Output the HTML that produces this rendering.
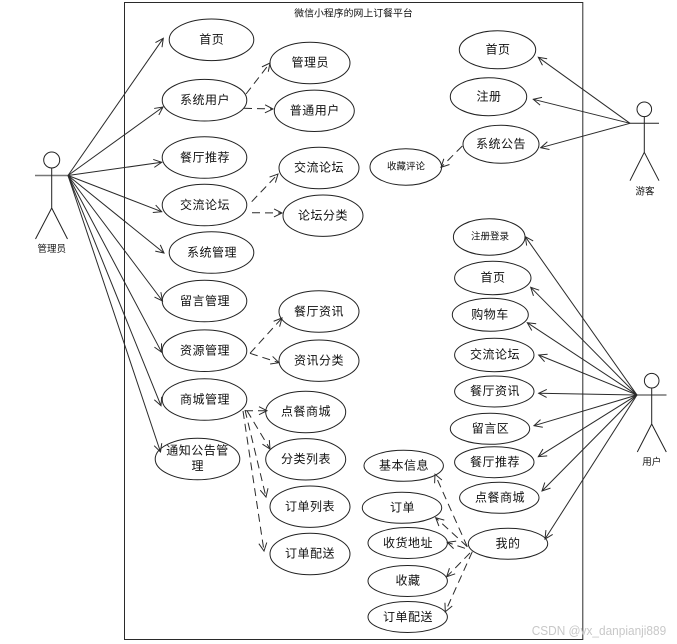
<!DOCTYPE html>
<html lang="zh">
<head>
<meta charset="utf-8">
<title>微信小程序的网上订餐平台</title>
<style>
html,body{margin:0;padding:0;background:#fff;width:677px;height:644px;overflow:hidden}
svg{display:block}
.n line{stroke:#2a2a2a;stroke-width:1;fill:none;marker-end:url(#a)}
.d line{stroke:#2a2a2a;stroke-width:1;fill:none;stroke-dasharray:8 5;marker-end:url(#a)}
.e ellipse{fill:none;stroke:#222;stroke-width:1}
.t text{font-family:"Liberation Sans","WenQuanYi Zen Hei","Noto Sans CJK SC",sans-serif;font-size:12px;letter-spacing:.5px;text-anchor:middle;dominant-baseline:central;fill:#111}
.t text.m{font-size:9.5px;letter-spacing:0}
.act{stroke:#222;stroke-width:1;fill:none}
</style>
</head>
<body>
<svg class="s" width="677" height="644" viewBox="0 0 677 644" xmlns="http://www.w3.org/2000/svg">
<defs>
<marker id="a" markerUnits="userSpaceOnUse" markerWidth="12" markerHeight="12" refX="10" refY="6" orient="auto" overflow="visible">
<path d="M2,2 L10,6 L2,10" fill="none" stroke="#2a2a2a" stroke-width="1"/>
</marker>
</defs>
<rect width="677" height="644" fill="#fff"/>
<rect x="124.5" y="2.5" width="458.3" height="637" fill="none" stroke="#2a2a2a" stroke-width="1"/>

<g class="act">
<circle cx="51.7" cy="160" r="8"/>
<line x1="35" y1="175.5" x2="68" y2="175.5" stroke="#777" stroke-width="1.6"/>
<path d="M51.7,168 V208 M35.5,239 L51.7,208 L67.5,239"/>
<circle cx="644.3" cy="109.3" r="7.3"/>
<path d="M630,123.3 H659 M644.3,116.6 V152.3 M630,180.7 L644.3,152.3 L659,180.7"/>
<circle cx="651.7" cy="380.7" r="7.3"/>
<line x1="637" y1="395" x2="666.5" y2="395" stroke="#777" stroke-width="1.6"/>
<path d="M651.7,388 V424 M637.3,452 L651.7,424 L666.3,452"/>
</g>

<g class="e">
<ellipse cx="211.5" cy="39.8" rx="42.3" ry="20.8"/>
<ellipse cx="204.5" cy="100.2" rx="42.3" ry="20.8"/>
<ellipse cx="204.5" cy="157.5" rx="42.3" ry="20.8"/>
<ellipse cx="204.5" cy="205" rx="42.3" ry="20.8"/>
<ellipse cx="211.5" cy="252.5" rx="42.3" ry="20.8"/>
<ellipse cx="204.5" cy="301" rx="42.3" ry="20.8"/>
<ellipse cx="204.5" cy="350.7" rx="42.3" ry="20.8"/>
<ellipse cx="204.5" cy="399.5" rx="42.3" ry="20.8"/>
<ellipse cx="197.5" cy="459" rx="42.3" ry="20.8"/>
<ellipse cx="310" cy="63" rx="40" ry="20.7"/>
<ellipse cx="314.3" cy="110.8" rx="40" ry="20.7"/>
<ellipse cx="319" cy="168" rx="40" ry="20.7"/>
<ellipse cx="323" cy="215.7" rx="40" ry="20.7"/>
<ellipse cx="319" cy="311.5" rx="40" ry="20.7"/>
<ellipse cx="319" cy="360.7" rx="40" ry="20.7"/>
<ellipse cx="305.7" cy="412" rx="40" ry="20.7"/>
<ellipse cx="305.7" cy="459.3" rx="40" ry="20.7"/>
<ellipse cx="310" cy="506.7" rx="40" ry="20.7"/>
<ellipse cx="310" cy="554" rx="40" ry="20.7"/>
<ellipse cx="497.5" cy="49.8" rx="38.2" ry="19"/>
<ellipse cx="488.5" cy="96.7" rx="38.2" ry="19"/>
<ellipse cx="501" cy="144.3" rx="38" ry="19"/>
<ellipse cx="405.8" cy="167" rx="35.8" ry="18.2"/>
<ellipse cx="489.2" cy="237" rx="35.8" ry="18.2"/>
<ellipse cx="492.8" cy="278" rx="38.2" ry="16.7"/>
<ellipse cx="490.3" cy="314.7" rx="38" ry="16.5"/>
<ellipse cx="494.3" cy="355" rx="39.7" ry="16.7"/>
<ellipse cx="494.3" cy="391.5" rx="39.7" ry="15.5"/>
<ellipse cx="490" cy="428.8" rx="39.7" ry="15.5"/>
<ellipse cx="494.3" cy="462.2" rx="39.7" ry="15.5"/>
<ellipse cx="499.3" cy="497.8" rx="39.7" ry="15.5"/>
<ellipse cx="508" cy="543.8" rx="39.7" ry="15.5"/>
<ellipse cx="403.7" cy="465.8" rx="39.7" ry="15.5"/>
<ellipse cx="402" cy="507.8" rx="39.7" ry="15.5"/>
<ellipse cx="407.7" cy="543" rx="39.7" ry="15.5"/>
<ellipse cx="407.7" cy="581" rx="39.7" ry="15.5"/>
<ellipse cx="407.7" cy="617" rx="39.7" ry="15.5"/>
</g>

<g class="n">
<line x1="68" y1="175.5" x2="163.3" y2="38.3"/>
<line x1="68" y1="175.5" x2="163" y2="107"/>
<line x1="68" y1="175.5" x2="161.7" y2="162.3"/>
<line x1="68" y1="175.5" x2="161.7" y2="211.7"/>
<line x1="68" y1="175.5" x2="164" y2="253"/>
<line x1="68" y1="175.5" x2="162.5" y2="301"/>
<line x1="68" y1="175.5" x2="161.7" y2="352.3"/>
<line x1="68" y1="175.5" x2="161" y2="405.7"/>
<line x1="68" y1="175.5" x2="160.5" y2="452"/>
<line x1="630" y1="123.3" x2="538.3" y2="57.3"/>
<line x1="630" y1="123.3" x2="533.3" y2="99.3"/>
<line x1="630" y1="123.3" x2="540.7" y2="147.7"/>
<line x1="637" y1="395" x2="525.3" y2="236.7"/>
<line x1="637" y1="395" x2="530.7" y2="287.3"/>
<line x1="637" y1="395" x2="527.3" y2="322.7"/>
<line x1="637" y1="395" x2="538.7" y2="355"/>
<line x1="637" y1="395" x2="538.7" y2="393.3"/>
<line x1="637" y1="395" x2="534" y2="425.7"/>
<line x1="637" y1="395" x2="538.3" y2="456.7"/>
<line x1="637" y1="395" x2="542" y2="491"/>
<line x1="637" y1="395" x2="545" y2="539"/>
</g>

<g class="d">
<line x1="246" y1="94" x2="270" y2="63"/>
<line x1="244" y1="108.3" x2="273" y2="109"/>
<line x1="251.7" y1="201.7" x2="278" y2="174"/>
<line x1="252" y1="212.7" x2="282" y2="213"/>
<line x1="250" y1="353.3" x2="282" y2="318"/>
<line x1="250" y1="353.3" x2="279" y2="362.7"/>
<line x1="245" y1="410.7" x2="267" y2="410.7"/>
<line x1="247" y1="410.7" x2="270" y2="449"/>
<line x1="245" y1="410" x2="266" y2="497"/>
<line x1="243" y1="411" x2="264" y2="551"/>
<line x1="462.3" y1="146" x2="441" y2="167.3"/>
<line x1="467.3" y1="546.7" x2="435" y2="474.3"/>
<line x1="467.3" y1="546.7" x2="435.7" y2="517.7"/>
<line x1="465" y1="548.3" x2="447.3" y2="542.3"/>
<line x1="470" y1="553" x2="446.7" y2="576.7"/>
<line x1="472.3" y1="551.7" x2="445.3" y2="611.7"/>
</g>

<g class="t">
<text class="m" x="353.5" y="14" style="font-size:9.9px">微信小程序的网上订餐平台</text>
<text class="m" x="51.7" y="249.5">管理员</text>
<text class="m" x="645" y="192">游客</text>
<text class="m" x="651.7" y="462.5">用户</text>
<text class="m" x="406" y="167">收藏评论</text>
<text class="m" x="490" y="237">注册登录</text>

<text x="211.7" y="39.5">首页</text>
<text x="205" y="100">系统用户</text>
<text x="205" y="157.5">餐厅推荐</text>
<text x="205" y="205">交流论坛</text>
<text x="212" y="252.5">系统管理</text>
<text x="205" y="301">留言管理</text>
<text x="205" y="350.5">资源管理</text>
<text x="205" y="399.5">商城管理</text>
<text x="197.5" y="450.7">通知公告管</text>
<text x="197.7" y="466">理</text>
<text x="310.3" y="62.5">管理员</text>
<text x="314.7" y="110.5">普通用户</text>
<text x="319" y="167.5">交流论坛</text>
<text x="323" y="215.5">论坛分类</text>
<text x="319" y="311.5">餐厅资讯</text>
<text x="319" y="360.5">资讯分类</text>
<text x="306" y="411.5">点餐商城</text>
<text x="306" y="459">分类列表</text>
<text x="310" y="506.5">订单列表</text>
<text x="310" y="553.5">订单配送</text>
<text x="498" y="49.5">首页</text>
<text x="489" y="96.5">注册</text>
<text x="501" y="144">系统公告</text>
<text x="493" y="277.5">首页</text>
<text x="490" y="314.5">购物车</text>
<text x="495" y="354.5">交流论坛</text>
<text x="495" y="391">餐厅资讯</text>
<text x="490.5" y="428.5">留言区</text>
<text x="495" y="462">餐厅推荐</text>
<text x="500" y="497.5">点餐商城</text>
<text x="508" y="543.5">我的</text>
<text x="404" y="465.5">基本信息</text>
<text x="402.5" y="507.5">订单</text>
<text x="408" y="543">收货地址</text>
<text x="408" y="580.5">收藏</text>
<text x="408" y="617">订单配送</text>
</g>

<text x="531.7" y="635" textLength="134.5" lengthAdjust="spacingAndGlyphs" font-family="Liberation Sans, sans-serif" font-size="12.5" fill="#c8c8c8">CSDN @vx_danpianji889</text>
</svg>
</body>
</html>
